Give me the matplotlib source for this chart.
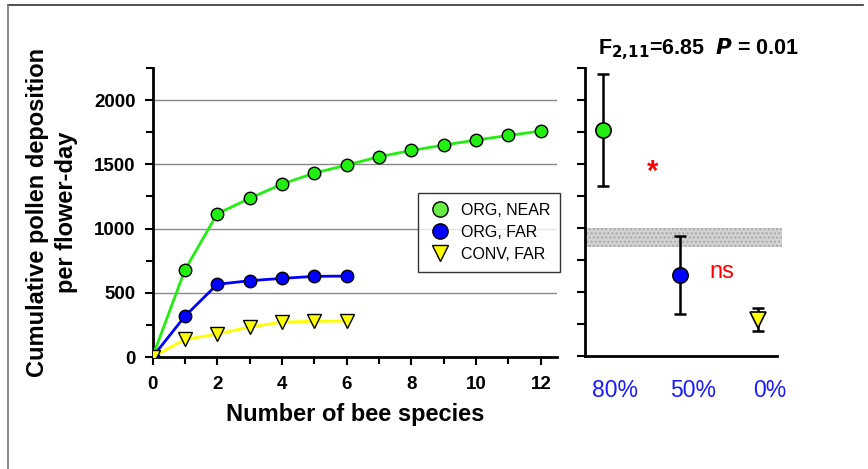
import numpy as np
import matplotlib.pyplot as plt
from matplotlib.lines import Line2D

plt.rcParams['font.family'] = ['Liberation Sans', 'DejaVu Sans']

# accumulation curves (pollen per flower-day vs number of bee species)
species_near = [0, 1, 2, 3, 4, 5, 6, 7, 8, 9, 10, 11, 12]
org_near = [0, 677, 1115, 1235, 1346, 1432, 1494, 1559, 1608, 1650, 1689, 1725, 1759]
species_far = [0, 1, 2, 3, 4, 5, 6]
org_far = [0, 317, 566, 594, 612, 628, 630]
conv_far = [0, 137, 179, 233, 272, 278, 280]

# totals by natural habitat in landscape
habitat_labels = ['80%', '50%', '0%']
habitat_means = [1766, 632, 280]
habitat_err = [440, 308, 90]
band_low, band_high = 850, 1000

green = '#22ee11'
blue = '#0000ff'
yellow = '#ffff00'

fig = plt.figure(figsize=(8.68, 4.69), dpi=100)

# thin frame along top and left edge
fig.add_artist(Line2D([0.0092, 0.994], [0.989, 0.989], color='#333333', lw=1.2))
fig.add_artist(Line2D([0.0092, 0.0092], [0.0, 0.989], color='#777777', lw=1.2))

ax = fig.add_axes([0.1757, 0.2388, 0.466, 0.6162])
ax.plot(species_near, org_near, color=green, lw=2, marker='o', ms=9,
        mfc=green, mec='black', mew=1, zorder=3)
ax.plot(species_far, org_far, color=blue, lw=2, marker='o', ms=9,
        mfc=blue, mec='black', mew=1, zorder=3)
ax.plot(species_far, conv_far, color=yellow, lw=2, marker='v', ms=10,
        mfc=yellow, mec='black', mew=1, zorder=3)
ax.set_xlim(0, 12.5)
ax.set_ylim(0, 2250)
for y in [500, 1000, 1500, 2000]:
    ax.axhline(y, color='#888888', lw=1, zorder=1)
ax.set_xticks(range(0, 13, 2))
ax.set_xticks(range(1, 13, 2), minor=True)
ax.set_yticks(range(0, 2001, 500))
ax.set_yticks(range(250, 2251, 500), minor=True)
for s in ['top', 'right']:
    ax.spines[s].set_visible(False)
for s in ['left', 'bottom']:
    ax.spines[s].set_linewidth(2)
ax.tick_params(which='major', length=6, width=1.5, labelsize=13.5, pad=6)
ax.tick_params(axis='x', which='major', pad=8)
ax.tick_params(which='minor', length=5, width=1.5)
for lab in ax.get_xticklabels() + ax.get_yticklabels():
    lab.set_fontweight('bold')
ax.set_xlabel('Number of bee species', fontsize=17, fontweight='bold', labelpad=7)
ax.set_ylabel('Cumulative pollen deposition\nper flower-day', fontsize=17,
              fontweight='bold', labelpad=12, linespacing=1.3)

handles = [
    Line2D([], [], ls='none', marker='o', ms=11, mfc='#66ee44', mec='black', mew=1),
    Line2D([], [], ls='none', marker='o', ms=11, mfc=blue, mec='black', mew=1),
    Line2D([], [], ls='none', marker='v', ms=11, mfc=yellow, mec='black', mew=1),
]
leg = ax.legend(handles, ['ORG, NEAR', 'ORG, FAR', 'CONV, FAR'],
                loc='upper left', bbox_to_anchor=(0.656, 0.5675),
                fontsize=11.5, frameon=True, fancybox=False, handlelength=1.6,
                handletextpad=0.5, borderpad=0.6, labelspacing=0.45,
                borderaxespad=0)
leg.get_frame().set_edgecolor('black')
leg.get_frame().set_linewidth(1)
leg.set_zorder(5)

# right panel: means with error bars
ax2 = fig.add_axes([0.674, 0.2416, 0.221, 0.6128])
xpos = np.arange(1, len(habitat_labels) + 1)
ax2.fill_between([0.77, 3.32], band_low, band_high, facecolor='#d2d2d2',
                 edgecolor='#a8a8a8', hatch='....', lw=0, clip_on=False, zorder=1)
ax2.errorbar(xpos, habitat_means, yerr=habitat_err, fmt='none',
             ecolor='black', elinewidth=1.8, capsize=4, capthick=1.8, zorder=2)
ax2.plot(xpos[0], habitat_means[0], ls='none', marker='o', ms=11, mfc=green,
         mec='black', mew=1.2, zorder=3)
ax2.plot(xpos[1], habitat_means[1], ls='none', marker='o', ms=11, mfc=blue,
         mec='black', mew=1.2, zorder=3)
ax2.plot(xpos[2], habitat_means[2], ls='none', marker='v', ms=11, mfc=yellow,
         mec='black', mew=1.2, zorder=3)
ax2.set_xlim(0.77, 3.25)
ax2.set_ylim(0, 2250)
ax2.set_xticks(xpos)
ax2.set_xticklabels([])
ax2.tick_params(axis='x', length=0)
# habitat labels, set a little to the right of their points
for x, lab in zip(xpos, habitat_labels):
    ax2.annotate(lab, (x, 0), xycoords=('data', 'axes fraction'),
                 xytext=(9, -25), textcoords='offset points',
                 color='#1a1aff', fontsize=16.5, ha='center', va='center')
ax2.set_yticks(range(0, 2251, 250))
ax2.set_yticklabels([])
ax2.tick_params(axis='y', length=6, width=1.5)
for s in ['top', 'right']:
    ax2.spines[s].set_visible(False)
for s in ['left', 'bottom']:
    ax2.spines[s].set_linewidth(2)
ax2.text(1.64, 1440, '*', color='red', fontsize=21, fontweight='bold',
         ha='center', va='center')
ax2.text(2.54, 658, 'ns', color='red', fontsize=17, ha='center', va='center')

fig.text(0.805, 0.896, r'F$_{\mathbf{2{,}11}}$=6.85  $\boldsymbol{P}$ = 0.01',
         fontsize=15.5, fontweight='bold', ha='center', va='center')

fig.savefig('out.png', dpi=100)
